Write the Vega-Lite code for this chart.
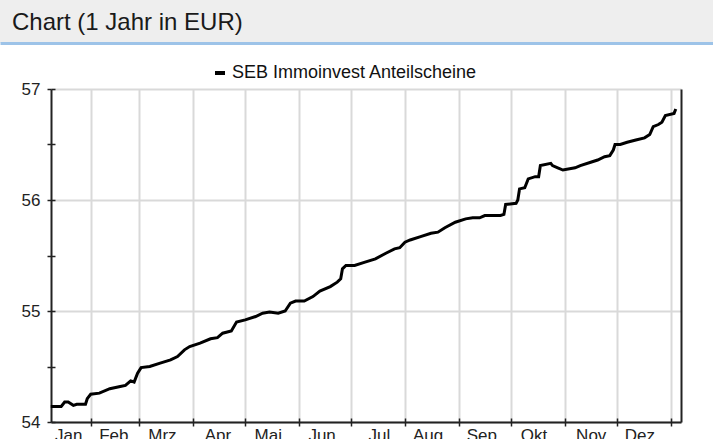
{
  "$schema": "https://vega.github.io/schema/vega-lite/v6.json",
  "padding": 0,
  "spacing": 21,
  "columns": 1,
  "background": "white",
  "config": {
    "view": {"stroke": null},
    "font": "Liberation Sans"
  },
  "resolve": {"legend": {"color": "independent"}},
  "concat": [
    {
      "width": 713,
      "height": 43,
      "view": {"fill": "#eeeeee", "stroke": null},
      "data": {"values": [{"label": "Chart (1 Jahr in EUR)", "pos": 0}]},
      "mark": {"type": "text", "align": "left", "baseline": "middle", "dx": 12, "dy": 1, "fontSize": 24, "font": "Liberation Sans", "color": "#1a1a1a"},
      "encoding": {
        "x": {"field": "pos", "type": "quantitative", "scale": {"domain": [0, 1]}, "axis": {"domainColor": "#9dc3e8", "domainWidth": 3, "ticks": false, "labels": false, "grid": false, "title": null}},
        "text": {"field": "label"}
      }
    },
    {
      "width": 681,
      "height": 333,
      "data": {"values": [
        {"date": "2007-01-09", "value": 54.14},
        {"date": "2007-01-15", "value": 54.14},
        {"date": "2007-01-17", "value": 54.18},
        {"date": "2007-01-19", "value": 54.18},
        {"date": "2007-01-22", "value": 54.15},
        {"date": "2007-01-24", "value": 54.16},
        {"date": "2007-01-29", "value": 54.16},
        {"date": "2007-01-30", "value": 54.21},
        {"date": "2007-02-01", "value": 54.25},
        {"date": "2007-02-06", "value": 54.26},
        {"date": "2007-02-12", "value": 54.30},
        {"date": "2007-02-18", "value": 54.32},
        {"date": "2007-02-21", "value": 54.33},
        {"date": "2007-02-24", "value": 54.37},
        {"date": "2007-02-26", "value": 54.36},
        {"date": "2007-02-28", "value": 54.44},
        {"date": "2007-03-02", "value": 54.49},
        {"date": "2007-03-07", "value": 54.50},
        {"date": "2007-03-13", "value": 54.53},
        {"date": "2007-03-19", "value": 54.56},
        {"date": "2007-03-23", "value": 54.59},
        {"date": "2007-03-27", "value": 54.65},
        {"date": "2007-03-30", "value": 54.68},
        {"date": "2007-04-05", "value": 54.71},
        {"date": "2007-04-11", "value": 54.75},
        {"date": "2007-04-15", "value": 54.76},
        {"date": "2007-04-18", "value": 54.80},
        {"date": "2007-04-23", "value": 54.82},
        {"date": "2007-04-26", "value": 54.90},
        {"date": "2007-05-01", "value": 54.92},
        {"date": "2007-05-07", "value": 54.95},
        {"date": "2007-05-11", "value": 54.98},
        {"date": "2007-05-15", "value": 54.99},
        {"date": "2007-05-20", "value": 54.98},
        {"date": "2007-05-24", "value": 55.00},
        {"date": "2007-05-27", "value": 55.07},
        {"date": "2007-05-30", "value": 55.09},
        {"date": "2007-06-04", "value": 55.09},
        {"date": "2007-06-09", "value": 55.13},
        {"date": "2007-06-13", "value": 55.18},
        {"date": "2007-06-19", "value": 55.22},
        {"date": "2007-06-23", "value": 55.26},
        {"date": "2007-06-25", "value": 55.29},
        {"date": "2007-06-26", "value": 55.38},
        {"date": "2007-06-28", "value": 55.41},
        {"date": "2007-07-03", "value": 55.41},
        {"date": "2007-07-09", "value": 55.44},
        {"date": "2007-07-15", "value": 55.47},
        {"date": "2007-07-21", "value": 55.52},
        {"date": "2007-07-26", "value": 55.56},
        {"date": "2007-07-29", "value": 55.57},
        {"date": "2007-08-01", "value": 55.62},
        {"date": "2007-08-04", "value": 55.64},
        {"date": "2007-08-10", "value": 55.67},
        {"date": "2007-08-16", "value": 55.70},
        {"date": "2007-08-20", "value": 55.71},
        {"date": "2007-08-24", "value": 55.75},
        {"date": "2007-08-30", "value": 55.80},
        {"date": "2007-09-05", "value": 55.83},
        {"date": "2007-09-09", "value": 55.84},
        {"date": "2007-09-13", "value": 55.84},
        {"date": "2007-09-16", "value": 55.86},
        {"date": "2007-09-25", "value": 55.86},
        {"date": "2007-09-27", "value": 55.87},
        {"date": "2007-09-28", "value": 55.96},
        {"date": "2007-10-04", "value": 55.97},
        {"date": "2007-10-05", "value": 56.00},
        {"date": "2007-10-06", "value": 56.10},
        {"date": "2007-10-09", "value": 56.11},
        {"date": "2007-10-11", "value": 56.19},
        {"date": "2007-10-15", "value": 56.21},
        {"date": "2007-10-17", "value": 56.21},
        {"date": "2007-10-18", "value": 56.31},
        {"date": "2007-10-24", "value": 56.33},
        {"date": "2007-10-25", "value": 56.31},
        {"date": "2007-10-28", "value": 56.29},
        {"date": "2007-10-31", "value": 56.27},
        {"date": "2007-11-07", "value": 56.29},
        {"date": "2007-11-10", "value": 56.31},
        {"date": "2007-11-16", "value": 56.34},
        {"date": "2007-11-20", "value": 56.36},
        {"date": "2007-11-24", "value": 56.39},
        {"date": "2007-11-27", "value": 56.40},
        {"date": "2007-11-29", "value": 56.45},
        {"date": "2007-11-30", "value": 56.50},
        {"date": "2007-12-03", "value": 56.50},
        {"date": "2007-12-07", "value": 56.52},
        {"date": "2007-12-12", "value": 56.54},
        {"date": "2007-12-17", "value": 56.56},
        {"date": "2007-12-20", "value": 56.59},
        {"date": "2007-12-22", "value": 56.66},
        {"date": "2007-12-25", "value": 56.68},
        {"date": "2007-12-27", "value": 56.70},
        {"date": "2007-12-29", "value": 56.76},
        {"date": "2008-01-03", "value": 56.78},
        {"date": "2008-01-04", "value": 56.82}
      ]},
      "layer": [
        {
          "mark": {"type": "line", "strokeWidth": 3, "strokeJoin": "miter"},
          "encoding": {
            "x": {
              "field": "date", "type": "temporal",
              "scale": {"type": "utc", "range": [51, 681], "domain": [{"year": 2007, "month": 1, "date": 9, "hours": 3, "utc": true}, {"year": 2008, "month": 1, "date": 7, "utc": true}]},
              "axis": {
                "orient": "bottom",
                "values": [
                  {"year": 2007, "month": 1, "date": 19, "utc": true},
                  {"year": 2007, "month": 2, "date": 1, "utc": true},
                  {"year": 2007, "month": 2, "date": 14, "utc": true},
                  {"year": 2007, "month": 3, "date": 1, "utc": true},
                  {"year": 2007, "month": 3, "date": 14, "utc": true},
                  {"year": 2007, "month": 4, "date": 1, "utc": true},
                  {"year": 2007, "month": 4, "date": 15, "utc": true},
                  {"year": 2007, "month": 5, "date": 1, "utc": true},
                  {"year": 2007, "month": 5, "date": 14, "utc": true},
                  {"year": 2007, "month": 6, "date": 1, "utc": true},
                  {"year": 2007, "month": 6, "date": 14, "utc": true},
                  {"year": 2007, "month": 7, "date": 1, "utc": true},
                  {"year": 2007, "month": 7, "date": 17, "utc": true},
                  {"year": 2007, "month": 8, "date": 1, "utc": true},
                  {"year": 2007, "month": 8, "date": 14, "utc": true},
                  {"year": 2007, "month": 9, "date": 1, "utc": true},
                  {"year": 2007, "month": 9, "date": 14, "utc": true},
                  {"year": 2007, "month": 10, "date": 1, "utc": true},
                  {"year": 2007, "month": 10, "date": 14, "utc": true},
                  {"year": 2007, "month": 11, "date": 1, "utc": true},
                  {"year": 2007, "month": 11, "date": 16, "utc": true},
                  {"year": 2007, "month": 12, "date": 1, "utc": true},
                  {"year": 2007, "month": 12, "date": 14, "utc": true},
                  {"year": 2008, "month": 1, "date": 1, "utc": true}
                ],
                "domainColor": "#222222", "domainWidth": 2,
                "tickSize": 4, "tickWidth": 1.5,
                "tickColor": {"condition": {"test": "utcdate(datum.value) === 1", "value": "#222222"}, "value": "rgba(0,0,0,0)"},
                "labelExpr": "utcdate(datum.value) === 1 ? '' : ['Jan','Feb','Mrz','Apr','Mai','Jun','Jul','Aug','Sep','Okt','Nov','Dez'][utcmonth(datum.value)]",
                "labelFontSize": 17, "labelFont": "Liberation Sans", "labelColor": "#222222", "labelPadding": 1,
                "labelOverlap": false, "labelFlush": false, "labelBound": false,
                "grid": false, "title": null
              }
            },
            "y": {
              "field": "value", "type": "quantitative",
              "scale": {"domain": [54, 57], "zero": false, "nice": false},
              "axis": {
                "orient": "left", "offset": -51,
                "values": [54, 54.5, 55, 55.5, 56, 56.5, 57],
                "domainColor": "#222222", "domainWidth": 2,
                "tickSize": 4, "tickWidth": 1.5, "tickColor": "#222222",
                "labelExpr": "datum.value % 1 === 0 ? format(datum.value, 'd') : ''",
                "labelFontSize": 17, "labelFont": "Liberation Sans", "labelColor": "#222222", "labelPadding": 7,
                "labelOverlap": false, "labelBound": false,
                "grid": false, "title": null
              }
            },
            "color": {
              "datum": "SEB Immoinvest Anteilscheine",
              "scale": {"range": ["#000000"]},
              "legend": {
                "orient": "none", "legendX": 211, "legendY": -25,
                "title": null, "padding": 0,
                "symbolType": "stroke", "symbolStrokeWidth": 4, "symbolSize": 100,
                "labelFontSize": 18, "labelFont": "Liberation Sans", "labelColor": "#111111", "labelOffset": 3, "labelLimit": 500
              }
            }
          }
        },
        {
          "mark": {"type": "line", "opacity": 0},
          "encoding": {
            "x": {
              "field": "date", "type": "temporal",
              "axis": {
                "orient": "bottom",
                "values": [
                  {"year": 2007, "month": 2, "date": 1, "utc": true},
                  {"year": 2007, "month": 3, "date": 1, "utc": true},
                  {"year": 2007, "month": 4, "date": 1, "utc": true},
                  {"year": 2007, "month": 5, "date": 1, "utc": true},
                  {"year": 2007, "month": 6, "date": 1, "utc": true},
                  {"year": 2007, "month": 7, "date": 1, "utc": true},
                  {"year": 2007, "month": 8, "date": 1, "utc": true},
                  {"year": 2007, "month": 9, "date": 1, "utc": true},
                  {"year": 2007, "month": 10, "date": 1, "utc": true},
                  {"year": 2007, "month": 11, "date": 1, "utc": true},
                  {"year": 2007, "month": 12, "date": 1, "utc": true},
                  {"year": 2008, "month": 1, "date": 1, "utc": true}
                ],
                "domain": false, "labels": false,
                "tickSize": -4, "tickWidth": 1.5, "tickColor": "#222222",
                "grid": true, "gridColor": "#d9d9d9", "gridWidth": 2,
                "title": null
              }
            },
            "y": {
              "field": "value", "type": "quantitative",
              "axis": {
                "orient": "left", "offset": -51,
                "values": [54, 54.5, 55, 55.5, 56, 56.5, 57],
                "domain": false, "labels": false,
                "tickSize": -4, "tickWidth": 1.5, "tickColor": "#222222",
                "grid": true, "gridColor": "#d9d9d9", "gridWidth": 2,
                "gridOpacity": {"condition": {"test": "datum.value % 1 === 0", "value": 1}, "value": 0},
                "title": null
              }
            }
          }
        },
        {
          "mark": {"type": "line", "opacity": 0},
          "encoding": {
            "x": {"field": "date", "type": "temporal", "axis": null},
            "y": {
              "field": "value", "type": "quantitative",
              "axis": {"orient": "right", "domainColor": "#222222", "domainWidth": 2, "ticks": false, "labels": false, "grid": false, "title": null}
            }
          }
        }
      ],
      "resolve": {"axis": {"x": "independent", "y": "independent"}}
    }
  ]
}
